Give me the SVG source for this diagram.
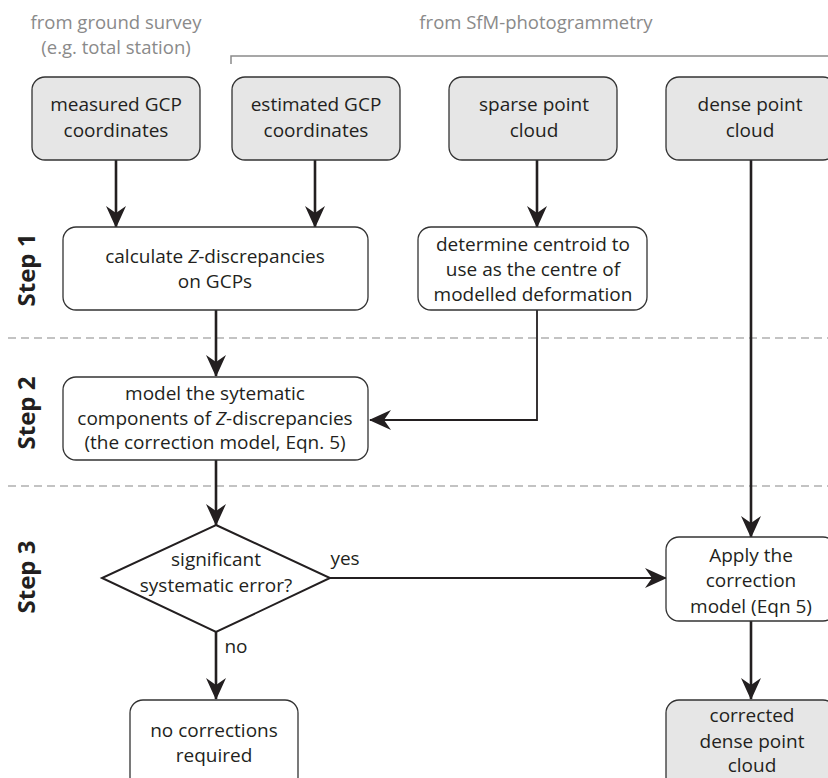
<svg xmlns="http://www.w3.org/2000/svg" width="828" height="778" viewBox="0 0 828 778">
<style>
.bg{fill:#ffffff}
.src{fill:#e6e6e6;stroke:#333;stroke-width:1.3}
.proc{fill:#ffffff;stroke:#333;stroke-width:1.3}
.t{font-family:"Open Sans","Noto Sans",sans-serif;font-size:19px;fill:#231f20;text-anchor:middle}
.g{font-family:"Open Sans","Noto Sans",sans-serif;font-size:18.5px;fill:#8a8a8a;text-anchor:middle}
.step{font-family:"Open Sans","Noto Sans",sans-serif;font-size:24px;font-weight:bold;fill:#231f20;text-anchor:middle}
.thick{fill:none;stroke:#231f20;stroke-width:2.6}
.thin{fill:none;stroke:#231f20;stroke-width:1.8}
.dash{fill:none;stroke:#b0b0b0;stroke-width:1.3;stroke-dasharray:8 5}
</style>
<defs>
<marker id="ah" viewBox="0 0 22 20" refX="21" refY="10" markerWidth="22" markerHeight="20" markerUnits="userSpaceOnUse" orient="auto">
<path d="M0,0 L22,10 L0,20 L7,10 Z" fill="#231f20"/>
</marker>
</defs>
<rect class="bg" x="0" y="0" width="828" height="778"/>

<g id="headers">
<text class="g" x="116" y="29">from ground survey</text>
<text class="g" x="116" y="54">(e.g. total station)</text>
<text class="g" x="536" y="29">from SfM-photogrammetry</text>
<path d="M231,64 V56 H828" fill="none" stroke="#8a8a8a" stroke-width="1.5"/>
</g>

<g id="separators">
<line class="dash" x1="8" y1="338" x2="828" y2="338"/>
<line class="dash" x1="8" y1="486" x2="828" y2="486"/>
</g>

<g id="steps">
<text class="step" transform="translate(35,270) rotate(-90)">Step 1</text>
<text class="step" transform="translate(35,413) rotate(-90)">Step 2</text>
<text class="step" transform="translate(35,577) rotate(-90)">Step 3</text>
</g>

<g id="connectors">
<line class="thick" x1="116" y1="160" x2="116" y2="227" marker-end="url(#ah)"/>
<line class="thick" x1="315" y1="160" x2="315" y2="227" marker-end="url(#ah)"/>
<line class="thick" x1="537" y1="160" x2="537" y2="227" marker-end="url(#ah)"/>
<line class="thick" x1="216" y1="310" x2="216" y2="376" marker-end="url(#ah)"/>
<path class="thin" d="M537,310 V420 H370" marker-end="url(#ah)"/>
<line class="thick" x1="216" y1="460" x2="216" y2="525" marker-end="url(#ah)"/>
<line class="thick" x1="751" y1="160" x2="751" y2="537" marker-end="url(#ah)"/>
<line class="thin" x1="330" y1="578" x2="666" y2="578" marker-end="url(#ah)"/>
<line class="thick" x1="216" y1="632" x2="216" y2="699" marker-end="url(#ah)"/>
<line class="thick" x1="751" y1="621" x2="751" y2="699" marker-end="url(#ah)"/>
<text class="t" x="345" y="565">yes</text>
<text class="t" x="236" y="653">no</text>
</g>

<g id="measured">
<rect class="src" x="32" y="77" width="168" height="83" rx="13"/>
<text class="t" x="116" y="111">measured GCP</text>
<text class="t" x="116" y="137">coordinates</text>
</g>
<g id="estimated">
<rect class="src" x="232" y="77" width="168" height="83" rx="13"/>
<text class="t" x="316" y="111">estimated GCP</text>
<text class="t" x="316" y="137">coordinates</text>
</g>
<g id="sparse">
<rect class="src" x="449" y="77" width="168" height="83" rx="13"/>
<text class="t" x="534" y="111">sparse point</text>
<text class="t" x="534" y="137">cloud</text>
</g>
<g id="dense">
<rect class="src" x="666" y="77" width="170" height="83" rx="13"/>
<text class="t" x="750" y="111">dense point</text>
<text class="t" x="750" y="137">cloud</text>
</g>
<g id="calculate">
<rect class="proc" x="63" y="227" width="305" height="83" rx="13"/>
<text class="t" x="215" y="263">calculate <tspan font-style="italic">Z</tspan>-discrepancies</text>
<text class="t" x="215" y="288">on GCPs</text>
</g>
<g id="centroid">
<rect class="proc" x="418" y="227" width="229" height="83" rx="13"/>
<text class="t" x="533" y="251">determine centroid to</text>
<text class="t" x="533" y="276">use as the centre of</text>
<text class="t" x="533" y="301">modelled deformation</text>
</g>
<g id="model">
<rect class="proc" x="63" y="377" width="305" height="83" rx="13"/>
<text class="t" x="215" y="400">model the sytematic</text>
<text class="t" x="215" y="425">components of <tspan font-style="italic">Z</tspan>-discrepancies</text>
<text class="t" x="215" y="449">(the correction model, Eqn. 5)</text>
</g>
<g id="decision">
<polygon points="216,525 330,578 216,632 102,578" fill="#ffffff" stroke="#231f20" stroke-width="2"/>
<text class="t" x="216" y="566">significant</text>
<text class="t" x="216" y="592">systematic error?</text>
</g>
<g id="apply">
<rect class="proc" x="666" y="537" width="170" height="84" rx="13"/>
<text class="t" x="751" y="562">Apply the</text>
<text class="t" x="751" y="587">correction</text>
<text class="t" x="751" y="613">model (Eqn 5)</text>
</g>
<g id="nocorr">
<rect class="proc" x="130" y="700" width="168" height="90" rx="13"/>
<text class="t" x="214" y="737">no corrections</text>
<text class="t" x="214" y="762">required</text>
</g>
<g id="corrected">
<rect class="src" x="666" y="700" width="170" height="90" rx="13"/>
<text class="t" x="752" y="722">corrected</text>
<text class="t" x="752" y="748">dense point</text>
<text class="t" x="752" y="772">cloud</text>
</g>
</svg>
